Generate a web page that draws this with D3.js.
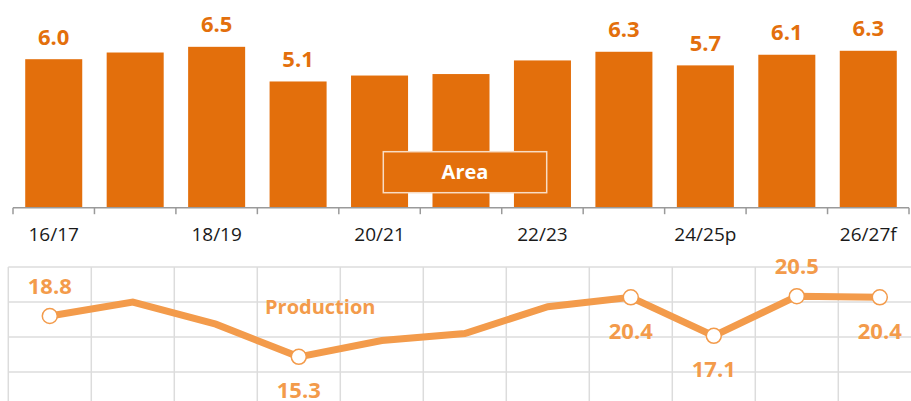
<!DOCTYPE html>
<html>
<head>
<meta charset="utf-8">
<script src="https://cdn.jsdelivr.net/npm/d3@7"></script>
<style>
  body { margin: 0; background: #fff; }
  svg { display: block; font-family: "Open Sans", sans-serif; }
</style>
</head>
<body>
<div id="chart"></div>
<script>
// seasons
var seasons = ["16/17", "17/18", "18/19", "19/20", "20/21", "21/22", "22/23", "23/24", "24/25p", "25/26f", "26/27f"];
var shownSeasons = ["16/17", "18/19", "20/21", "22/23", "24/25p", "26/27f"];

// area (bars)
var area = [6.0, 6.27, 6.5, 5.1, 5.34, 5.4, 5.95, 6.3, 5.75, 6.18, 6.34];
var areaLabels = ["6.0", null, "6.5", "5.1", null, null, null, "6.3", "5.7", "6.1", "6.3"];

// production (line)
var production = [18.8, 20.0, 18.1, 15.3, 16.7, 17.3, 19.6, 20.4, 17.1, 20.5, 20.4];
var prodLabels = ["18.8", null, null, "15.3", null, null, null, "20.4", "17.1", "20.5", "20.4"];
var prodLabelPos = ["above", null, null, "below", null, null, null, "below", "below", "above", "below"];
var prodTicks = [11, 14, 17, 20, 23];

var width = 911, height = 401;
var barColor = "#E36F0C", lineColor = "#F39B4B";

var svg = d3.select("#chart")
  .append("svg")
    .attr("width", width)
    .attr("height", height);

// ---- top : bars ----
var baseY = 207.7;
var x = d3.scaleBand()
  .domain(seasons)
  .range([13, 909])
  .paddingInner(0.3)
  .paddingOuter(0.15);

var y = d3.scaleLinear()
  .domain([0, 8])
  .range([baseY, baseY - 8 * 24.75]);

svg.append("g")
  .selectAll("rect")
  .data(area)
  .enter()
  .append("rect")
    .attr("x", function (d, i) { return x(seasons[i]); })
    .attr("y", function (d) { return y(d); })
    .attr("width", x.bandwidth())
    .attr("height", function (d) { return baseY - y(d); })
    .style("fill", barColor);

// indices of labelled bars / points
var areaIdx = d3.range(area.length).filter(function (i) { return areaLabels[i] != null; });
var prodIdx = d3.range(production.length).filter(function (i) { return prodLabels[i] != null; });

svg.append("g")
  .selectAll("text")
  .data(areaIdx)
  .enter()
  .append("text")
    .attr("x", function (i) { return x(seasons[i]) + x.bandwidth() / 2; })
    .attr("y", function (i) { return y(area[i]) - 14.7; })
    .attr("text-anchor", "middle")
    .style("font-size", "22px")
    .style("font-weight", "bold")
    .style("fill", barColor)
    .text(function (i) { return areaLabels[i]; });

// axis: labels on every other season, ticks between bands
var xAxis = svg.append("g")
  .attr("transform", "translate(0," + baseY + ")")
  .call(d3.axisBottom(x)
    .tickValues(shownSeasons)
    .tickSize(0)
    .tickPadding(20));
xAxis.select(".domain").remove();
xAxis.selectAll("text")
  .style("font-family", "'Open Sans', sans-serif")
  .style("font-size", "19px")
  .style("fill", "#1a1a1a");

svg.append("line")
  .attr("x1", 13).attr("x2", 909)
  .attr("y1", baseY).attr("y2", baseY)
  .style("stroke", "#9a9a9a").style("stroke-width", 1.5);

var bounds = seasons.map(function (s) { return x(s) - x.step() * x.paddingInner() / 2; });
bounds[0] = 13;
bounds.push(909);
svg.append("g")
  .selectAll("line")
  .data(bounds)
  .enter()
  .append("line")
    .attr("x1", function (d) { return d; })
    .attr("x2", function (d) { return d; })
    .attr("y1", baseY)
    .attr("y2", baseY + 6.5)
    .style("stroke", "#9a9a9a")
    .style("stroke-width", 1.5);

// legend box
svg.append("rect")
  .attr("x", 383.3).attr("y", 151.7)
  .attr("width", 163.4).attr("height", 41)
  .style("fill", barColor)
  .style("stroke", "#f8dcc4")
  .style("stroke-width", 1.5);
svg.append("text")
  .attr("x", 465).attr("y", 179.3)
  .attr("text-anchor", "middle")
  .style("font-size", "20px")
  .style("font-weight", "bold")
  .style("fill", "#fff")
  .text("Area");

// ---- bottom : production line ----
var x2 = d3.scaleBand()
  .domain(seasons)
  .range([8.3, 8.3 + 11 * 83])
  .padding(0);

var y2 = d3.scaleLinear()
  .domain([11, 23])
  .range([407, 267]);

var grid = svg.append("g");
grid.selectAll(".h")
  .data(prodTicks)
  .enter()
  .append("line")
    .attr("class", "h")
    .attr("x1", 8.3).attr("x2", 8.3 + 11 * 83)
    .attr("y1", function (d) { return y2(d); })
    .attr("y2", function (d) { return y2(d); })
    .style("stroke", "#dcdcdc").style("stroke-width", 1.5);
grid.selectAll(".v")
  .data(seasons.concat(["end"]))
  .enter()
  .append("line")
    .attr("class", "v")
    .attr("x1", function (d, i) { return 8.3 + i * x2.step(); })
    .attr("x2", function (d, i) { return 8.3 + i * x2.step(); })
    .attr("y1", y2(23)).attr("y2", y2(11))
    .style("stroke", "#dcdcdc").style("stroke-width", 1.5);

svg.append("text")
  .attr("x", 265).attr("y", 314.3)
  .style("font-size", "20px")
  .style("font-weight", "bold")
  .style("fill", lineColor)
  .text("Production");

var line = d3.line()
  .x(function (d, i) { return x2(seasons[i]) + x2.bandwidth() / 2; })
  .y(function (d) { return y2(d); });

svg.append("path")
  .datum(production)
  .attr("d", line)
  .style("fill", "none")
  .style("stroke", lineColor)
  .style("stroke-width", 7);

svg.append("g")
  .selectAll("circle")
  .data(prodIdx)
  .enter()
  .append("circle")
    .attr("cx", function (i) { return x2(seasons[i]) + x2.bandwidth() / 2; })
    .attr("cy", function (i) { return y2(production[i]); })
    .attr("r", 7.5)
    .style("fill", "#fff")
    .style("stroke", lineColor)
    .style("stroke-width", 1.5);

svg.append("g")
  .selectAll("text")
  .data(prodIdx)
  .enter()
  .append("text")
    .attr("x", function (i) { return x2(seasons[i]) + x2.bandwidth() / 2; })
    .attr("y", function (i) { return prodLabelPos[i] == "above" ? y2(production[i]) - 22 : y2(production[i]) + 41.5; })
    .attr("text-anchor", "middle")
    .style("font-size", "22px")
    .style("font-weight", "bold")
    .style("fill", lineColor)
    .text(function (i) { return prodLabels[i]; });
</script>
</body>
</html>
